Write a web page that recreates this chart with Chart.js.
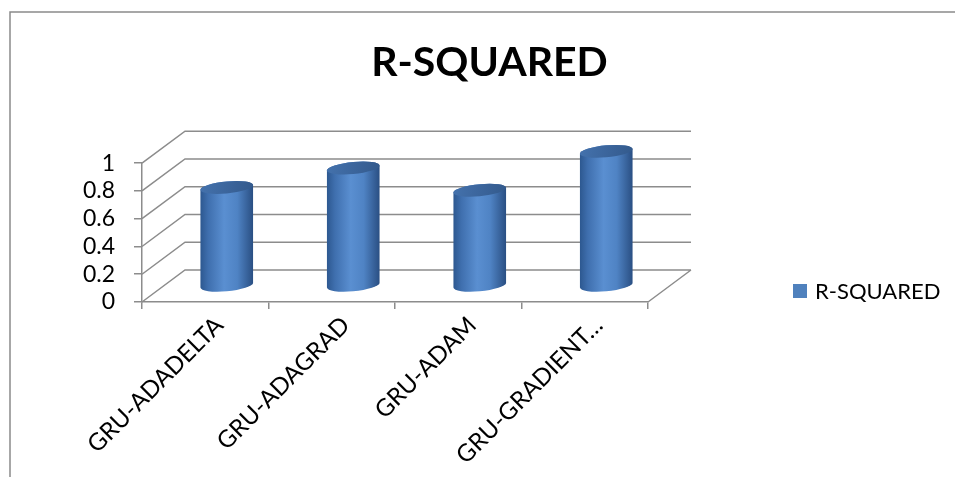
<!DOCTYPE html>
<html>
<head>
<meta charset="utf-8">
<title>R-SQUARED</title>
<script src="https://cdn.jsdelivr.net/npm/chart.js@4.4.1/dist/chart.umd.min.js"></script>
<style>
  html, body { margin: 0; padding: 0; background: #fff; overflow: hidden; }
  #chart { display: block; }
</style>
</head>
<body>
<canvas id="chart" width="955" height="477"></canvas>
<script>
// ---- data ----
var CATEGORIES  = ['GRU-ADADELTA', 'GRU-ADAGRAD', 'GRU-ADAM', 'GRU-GRADIENT…'];
var R_SQUARED   = [0.71, 0.85, 0.69, 0.97];
var Y_TICKS     = [0, 0.2, 0.4, 0.6, 0.8, 1];
var SERIES_NAME = 'R-SQUARED';
var CHART_TITLE = 'R-SQUARED';

// ---- look ----
var FONT      = 'Lato, "Open Sans", sans-serif';
var LINE_GREY = '#8c8c8c';
var DEPTH_X   = 43;    // front -> back wall offset
var DEPTH_Y   = -32;

function drawCylinder(ctx, cx, yTop, yBase, w) {
  var rx = w / 2, ry = 6, k = -0.09;
  ctx.save();
  ctx.translate(cx, 0);
  ctx.transform(1, k, 0, 1, 0, 0);   // slight perspective tilt

  var side = ctx.createLinearGradient(-rx, 0, rx, 0);
  side.addColorStop(0,    '#2d5890');
  side.addColorStop(0.15, '#3f6fae');
  side.addColorStop(0.45, '#5a8fd1');
  side.addColorStop(0.7,  '#4f83c4');
  side.addColorStop(1,    '#2a4f83');

  ctx.beginPath();
  ctx.moveTo(-rx, yTop);
  ctx.lineTo(-rx, yBase);
  ctx.ellipse(0, yBase, rx, ry, 0, Math.PI, 0, true);
  ctx.lineTo(rx, yTop);
  ctx.ellipse(0, yTop, rx, ry, 0, 0, Math.PI, true);
  ctx.closePath();
  ctx.fillStyle = side;
  ctx.fill();

  var cap = ctx.createLinearGradient(-rx, yTop - ry, rx, yTop + ry);
  cap.addColorStop(0, '#4472ad');
  cap.addColorStop(0.6, '#3a6399');
  cap.addColorStop(1, '#335a8c');
  ctx.beginPath();
  ctx.ellipse(0, yTop, rx, ry, 0, 0, Math.PI * 2);
  ctx.fillStyle = cap;
  ctx.fill();
  ctx.restore();
}

var threeD = {
  id: 'threeD',
  beforeDraw: function (chart) {
    var ctx = chart.ctx;
    ctx.save();
    ctx.fillStyle = '#fff';
    ctx.fillRect(0, 0, chart.width, chart.height);
    // outer frame (only top and left edges are inside the shot)
    ctx.strokeStyle = '#8a8a8a';
    ctx.lineWidth = 1.5;
    ctx.beginPath();
    ctx.moveTo(10, chart.height);
    ctx.lineTo(10, 12);
    ctx.lineTo(chart.width, 12);
    ctx.stroke();
    ctx.restore();
  },
  beforeDatasetsDraw: function (chart) {
    var ctx = chart.ctx, a = chart.chartArea;
    var ys = chart.scales.y;
    ctx.save();
    ctx.strokeStyle = LINE_GREY;
    ctx.lineWidth = 1.5;
    ctx.beginPath();
    Y_TICKS.forEach(function (v) {
      var py = ys.getPixelForValue(v);
      ctx.moveTo(a.left, py);
      ctx.lineTo(a.left + DEPTH_X, py + DEPTH_Y);
      ctx.lineTo(a.right + DEPTH_X, py + DEPTH_Y);
    });
    var p0 = ys.getPixelForValue(0);
    ctx.moveTo(a.right, p0);
    ctx.lineTo(a.right + DEPTH_X, p0 + DEPTH_Y);
    ctx.stroke();

    var meta = chart.getDatasetMeta(0);
    meta.data.forEach(function (bar) {
      var p = bar.getProps(['x', 'y', 'base', 'width'], true);
      drawCylinder(ctx, p.x + DEPTH_X / 2, p.y + DEPTH_Y / 2, p.base + DEPTH_Y / 2, p.width);
    });
    ctx.restore();
    return false;   // flat bars replaced by the cylinders
  },
  afterDraw: function (chart) {
    var ctx = chart.ctx, a = chart.chartArea;
    var ds = chart.data.datasets[0];
    var lx = a.right + 145, ly = 291;
    ctx.save();
    ctx.fillStyle = ds.backgroundColor;
    ctx.fillRect(lx, ly - 7, 14, 14);
    ctx.fillStyle = '#000';
    ctx.font = '22px ' + FONT;
    ctx.textBaseline = 'middle';
    ctx.fillText(ds.label, lx + 22, ly + 1);
    ctx.restore();
  }
};

new Chart(document.getElementById('chart'), {
  type: 'bar',
  data: {
    labels: CATEGORIES,
    datasets: [{
      label: SERIES_NAME,
      data: R_SQUARED,
      backgroundColor: '#4F81BD',
      categoryPercentage: 0.8,
      barPercentage: 0.52
    }]
  },
  options: {
    responsive: false,
    animation: false,
    events: [],
    layout: { padding: { left: 24, top: 0, right: 0, bottom: 0 } },
    plugins: {
      legend: { display: false },
      tooltip: { enabled: false },
      title: {
        display: true,
        text: CHART_TITLE,
        color: '#000',
        font: { family: FONT, size: 41, weight: 'bold', lineHeight: 1.2 },
        padding: { top: 38, bottom: 76 }
      }
    },
    scales: {
      x: {
        grid: { display: true, drawOnChartArea: false, color: LINE_GREY, lineWidth: 1.5, tickLength: 7 },
        border: { display: true, color: LINE_GREY, width: 1.5 },
        ticks: {
          color: '#000',
          font: { family: FONT, size: 24 },
          minRotation: 45, maxRotation: 45,
          autoSkip: false,
          labelOffset: 14,
          padding: 2
        },
        afterFit: function (s) { s.height = 175; }
      },
      y: {
        min: 0, max: 1,
        afterBuildTicks: function (s) { s.ticks = Y_TICKS.map(function (v) { return { value: v }; }); },
        grid: { display: true, drawOnChartArea: false, color: LINE_GREY, lineWidth: 1.5, tickLength: 8 },
        border: { display: true, color: LINE_GREY, width: 1.5 },
        ticks: {
          color: '#000',
          font: { family: FONT, size: 23 },
          padding: 19,
          autoSkip: false,
          callback: function (v) { return String(v); }
        },
        afterFit: function (s) { s.width = 118; }
      },
      legendSpace: {
        position: 'right',
        min: 0, max: 1,
        grid: { display: false },
        border: { display: false },
        ticks: { display: false },
        afterFit: function (s) { s.width = 307; }
      }
    }
  },
  plugins: [threeD]
});
</script>
</body>
</html>
